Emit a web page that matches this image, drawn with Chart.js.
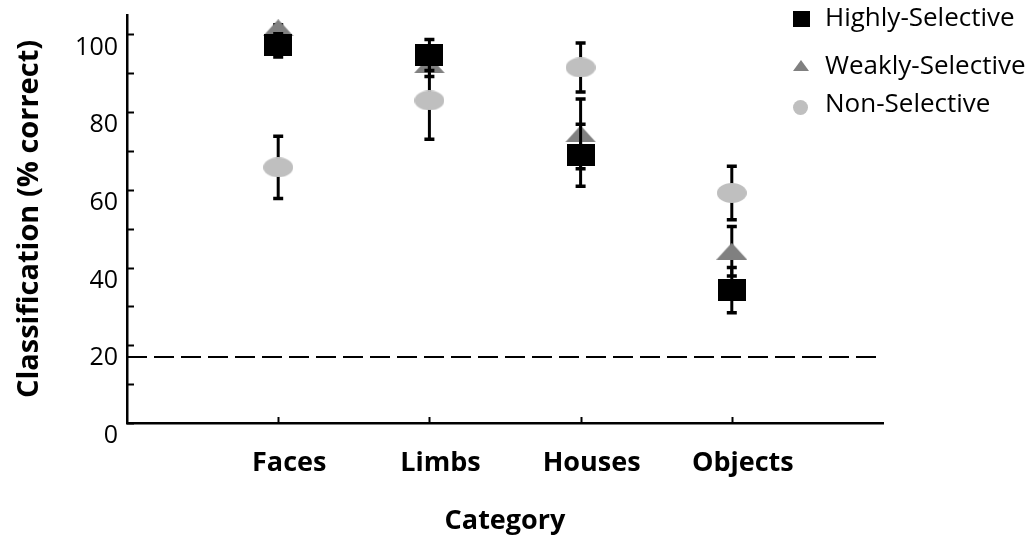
<!DOCTYPE html>
<html>
<head>
<meta charset="utf-8">
<script src="https://cdn.jsdelivr.net/npm/chart.js@4/dist/chart.umd.min.js"></script>
<style>
  html, body { margin: 0; padding: 0; background: #ffffff; }
  #wrap { width: 1035px; height: 538px; }
</style>
</head>
<body>
<div id="wrap"><canvas id="chart" width="1035" height="538"></canvas></div>
<script>
// Categories and classification accuracy (% correct) per voxel group
const categories = ['Faces', 'Limbs', 'Houses', 'Objects'];
const highlyValues = [97.2, 94.7, 68.9, 34.2];
const highlyErrors = [3.0, 4.0, 8.0, 5.8];
const weaklyValues = [101.7, 92.2, 74.4, 44.2];
const weaklyErrors = [0.8, 3.0, 9.0, 6.4];
const nonValues = [65.8, 83.0, 91.5, 59.2];
const nonErrors = [8.0, 10.0, 6.3, 6.9];
const chanceLevel = 17;
const yTickLabels = [0, 20, 40, 60, 80, 100];
const seriesNames = ['Highly-Selective', 'Weakly-Selective', 'Non-Selective'];

const FONT = '"Open Sans", Lato, sans-serif';

// Marker sprites used as point styles
function makeSprite(w, h, draw) {
  const c = document.createElement('canvas');
  c.width = w; c.height = h;
  const g = c.getContext('2d');
  draw(g, w, h);
  return c;
}
const squareSprite = makeSprite(28, 22, (g, w, h) => { g.fillStyle = '#000000'; g.fillRect(0, 0, w, h); });
const triangleSprite = makeSprite(31, 17, (g, w, h) => {
  g.fillStyle = '#808080';
  g.beginPath(); g.moveTo(w / 2, 0); g.lineTo(w, h); g.lineTo(0, h); g.closePath(); g.fill();
});
const ellipseSprite = makeSprite(30, 20, (g, w, h) => {
  g.fillStyle = '#bfbfbf';
  g.beginPath(); g.ellipse(w / 2, h / 2, w / 2, h / 2, 0, 0, Math.PI * 2); g.fill();
});

const toPoints = vals => vals.map((v, i) => ({ x: i + 1, y: v }));

// Error bars per series, drawn just beneath that series' markers
const barsByDataset = {
  0: [highlyValues, highlyErrors],
  2: [weaklyValues, weaklyErrors],
  3: [nonValues, nonErrors]
};
const errorBars = {
  id: 'errorBars',
  beforeDatasetDraw(chart, args) {
    const set = barsByDataset[args.index];
    if (!set) return;
    const [vals, errs] = set;
    const { ctx, scales: { x, y } } = chart;
    ctx.save();
    ctx.strokeStyle = '#000000';
    ctx.lineCap = 'butt';
    vals.forEach((v, i) => {
      const px = x.getPixelForValue(i + 1);
      const top = y.getPixelForValue(v + errs[i]);
      const bot = y.getPixelForValue(v - errs[i]);
      ctx.lineWidth = 3;
      ctx.beginPath();
      ctx.moveTo(px, top); ctx.lineTo(px, bot);
      ctx.stroke();
      ctx.lineWidth = 3.5;
      ctx.beginPath();
      ctx.moveTo(px - 5, top); ctx.lineTo(px + 5, top);
      ctx.moveTo(px - 5, bot); ctx.lineTo(px + 5, bot);
      ctx.stroke();
    });
    ctx.restore();
  }
};

// Inward tick marks on both axes
const innerTicks = {
  id: 'innerTicks',
  afterDraw(chart) {
    const { ctx, scales: { x, y }, chartArea } = chart;
    ctx.save();
    ctx.strokeStyle = '#000000';
    ctx.lineWidth = 2;
    for (let v = 0; v <= 100; v += 10) {
      const py = Math.round(y.getPixelForValue(v)) + 0.5;
      ctx.beginPath(); ctx.moveTo(chartArea.left, py); ctx.lineTo(chartArea.left + 7, py); ctx.stroke();
    }
    categories.forEach((c, i) => {
      const px = Math.round(x.getPixelForValue(i + 1)) + 0.5;
      ctx.beginPath(); ctx.moveTo(px, chartArea.bottom); ctx.lineTo(px, chartArea.bottom - 6); ctx.stroke();
    });
    ctx.restore();
  }
};

// Legend in the upper right corner
const cornerLegend = {
  id: 'cornerLegend',
  afterDraw(chart) {
    const ctx = chart.ctx;
    ctx.save();
    ctx.font = '26px ' + FONT;
    ctx.textBaseline = 'middle';
    ctx.textAlign = 'left';
    const rows = [19, 67, 105];
    ctx.fillStyle = '#000000';
    ctx.fillRect(793, 11, 17, 16);
    ctx.fillStyle = '#808080';
    ctx.beginPath(); ctx.moveTo(801, 60); ctx.lineTo(809, 71); ctx.lineTo(793, 71); ctx.closePath(); ctx.fill();
    ctx.fillStyle = '#bfbfbf';
    ctx.beginPath(); ctx.arc(800.5, 107.5, 7.5, 0, Math.PI * 2); ctx.fill();
    ctx.fillStyle = '#000000';
    seriesNames.forEach((n, i) => ctx.fillText(n, 825, rows[i]));
    ctx.restore();
  }
};

new Chart(document.getElementById('chart'), {
  type: 'scatter',
  data: {
    datasets: [
      {
        label: seriesNames[0], data: toPoints(highlyValues), order: 2,
        pointStyle: squareSprite, pointRadius: 14
      },
      {
        label: 'chance', type: 'line', data: [{ x: 0, y: chanceLevel }, { x: 5, y: chanceLevel }], order: 4,
        borderColor: '#000000', borderWidth: 2, borderDash: [20, 7], pointRadius: 0, fill: false
      },
      {
        label: seriesNames[1], data: toPoints(weaklyValues), order: 3,
        pointStyle: triangleSprite, pointRadius: 14
      },
      {
        label: seriesNames[2], data: toPoints(nonValues), order: 1,
        pointStyle: ellipseSprite, pointRadius: 14
      }
    ]
  },
  options: {
    responsive: false,
    animation: false,
    events: [],
    layout: { padding: { left: 0, right: 152, top: 14, bottom: 0 } },
    plugins: { legend: { display: false }, tooltip: { enabled: false } },
    scales: {
      x: {
        type: 'linear', min: 0, max: 5,
        afterBuildTicks: s => { s.ticks = categories.map((c, i) => ({ value: i + 1 })); },
        afterFit: s => { s.height = 115; s.paddingLeft = 0; s.paddingRight = 0; },
        grid: { display: false, drawTicks: false },
        border: { display: true, color: '#000000', width: 2.5 },
        ticks: {
          callback: v => categories[v - 1] || '',
          font: { family: FONT, size: 27, weight: 'bold' },
          color: '#000000', padding: 24, maxRotation: 0, autoSkip: false, labelOffset: 11
        },
        title: {
          display: true, text: 'Category',
          font: { family: FONT, size: 27, weight: 'bold' },
          color: '#000000', padding: { top: 0, bottom: 0 }
        }
      },
      y: {
        min: 0, max: 105,
        afterBuildTicks: s => { s.ticks = yTickLabels.map(v => ({ value: v })); },
        afterFit: s => { s.width = 127; s.paddingTop = 0; s.paddingBottom = 0; },
        grid: { display: false, drawTicks: false },
        border: { display: true, color: '#000000', width: 2.5 },
        ticks: {
          font: { family: FONT, size: 25 },
          color: '#000000', padding: 9, labelOffset: 13
        },
        title: {
          display: true, text: 'Classification (% correct)',
          font: { family: FONT, size: 29, weight: 'bold' },
          color: '#000000', padding: { top: 12, bottom: 0 }
        }
      }
    }
  },
  plugins: [errorBars, innerTicks, cornerLegend]
});
</script>
</body>
</html>
